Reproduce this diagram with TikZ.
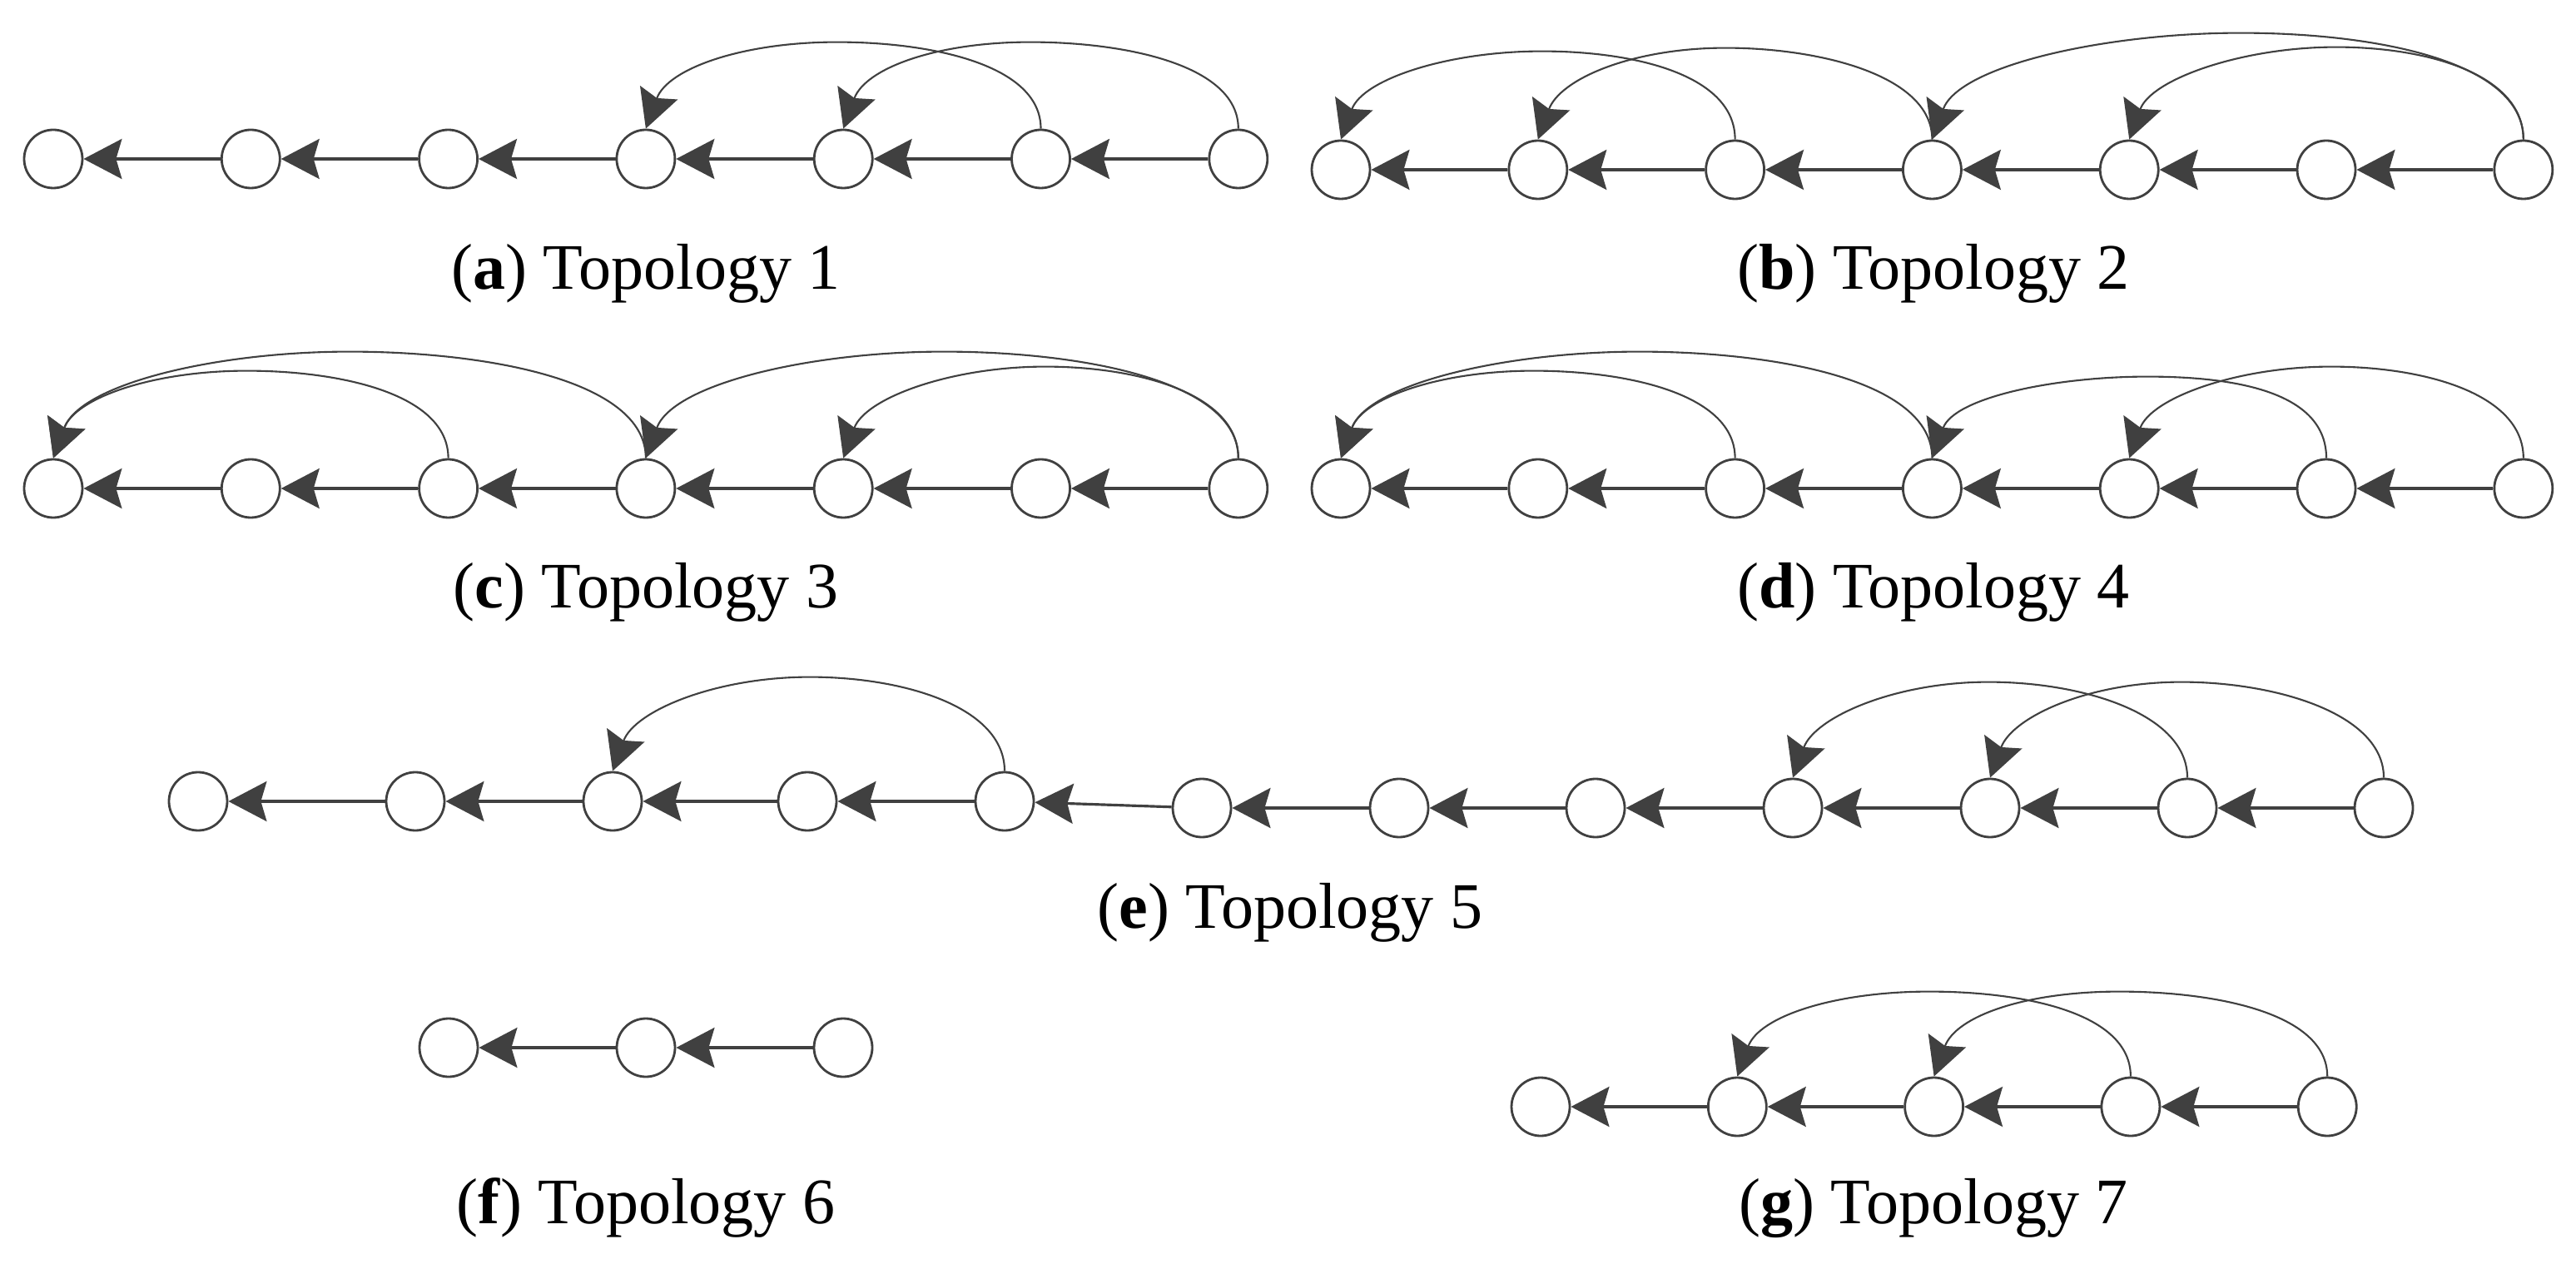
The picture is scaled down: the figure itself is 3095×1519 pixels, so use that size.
\documentclass[tikz,border=0pt]{standalone}
\usepackage{fontspec}
\setmainfont{Liberation Serif}
\usetikzlibrary{arrows.meta}

\definecolor{linegray}{RGB}{64,64,64}

\tikzset{
  vertex/.style={circle, draw=linegray, line width=0.4pt, fill=white,
    inner sep=0pt, minimum size=3.5mm},
  link/.style={draw=linegray, line width=0.45pt,
    -{Stealth[length=2.3mm, width=2.4mm, inset=0.35mm]}},
  hop/.style={link, line width=0.3pt},
  climb/.style={out=90, in=0, out distance=3.85mm, in distance=5.65mm},
  land/.style={out=180, in=70, out distance=5.65mm, in distance=3.85mm},
  longclimb/.style={out=90, in=0, out distance=4.75mm, in distance=8mm},
  longland/.style={out=180, in=70, out distance=8mm, in distance=4.75mm},
  subcap/.style={anchor=base, font=\fontsize{11.1}{13}\selectfont}
}

\begin{document}
\begin{tikzpicture}[x=0.05mm, y=-0.05mm]
  \useasboundingbox (0,0) rectangle (3095,1519);

  % (a) Topology 1
  \foreach \i in {1,...,7}
    \node[vertex] (a\i) at ({64+237.3*(\i-1)},191) {};
  \foreach \i [count=\j from 2] in {1,...,6}
    \draw[link] (a\j) -- (a\i);
  \draw[hop] (a6.north) to[climb] ++(-245,-104) to[land] (a4.north);
  \draw[hop] (a7.north) to[climb] ++(-250,-104) to[land] (a5.north);
  \node[subcap] (capa) at (776,348) {(\textbf{a}) Topology 1};

  % (b) Topology 2
  \foreach \i in {1,...,7}
    \node[vertex] (b\i) at ({1611+236.8*(\i-1)},204) {};
  \foreach \i [count=\j from 2] in {1,...,6}
    \draw[link] (b\j) -- (b\i);
  \draw[hop] (b3.north) to[climb] ++(-232,-106) to[land] (b1.north);
  \draw[hop] (b4.north) to[climb] ++(-248,-110) to[land] (b2.north);
  \draw[hop] (b7.north) to[longclimb] ++(-340,-128) to[longland] (b4.north);
  \draw[hop] (b7.north) to[climb] ++(-225,-111) to[land] (b5.north);
  \node[subcap] (capb) at (2323,348) {(\textbf{b}) Topology 2};

  % (c) Topology 3
  \foreach \i in {1,...,7}
    \node[vertex] (c\i) at ({64+237.3*(\i-1)},587) {};
  \foreach \i [count=\j from 2] in {1,...,6}
    \draw[link] (c\j) -- (c\i);
  \draw[hop] (c3.north) to[climb] ++(-242,-105) to[land] (c1.north);
  \draw[hop] (c4.north) to[longclimb] ++(-356,-128) to[longland] (c1.north);
  \draw[hop] (c7.north) to[longclimb] ++(-354,-128) to[longland] (c4.north);
  \draw[hop] (c7.north) to[climb] ++(-232,-110) to[land] (c5.north);
  \node[subcap] (capc) at (776,731) {(\textbf{c}) Topology 3};

  % (d) Topology 4
  \foreach \i in {1,...,7}
    \node[vertex] (d\i) at ({1611+236.8*(\i-1)},587) {};
  \foreach \i [count=\j from 2] in {1,...,6}
    \draw[link] (d\j) -- (d\i);
  \draw[hop] (d3.north) to[climb] ++(-242,-105) to[land] (d1.north);
  \draw[hop] (d4.north) to[longclimb] ++(-352,-128) to[longland] (d1.north);
  \draw[hop] (d6.north) to[climb] ++(-215,-98) to[land] (d4.north);
  \draw[hop] (d7.north) to[climb] ++(-231,-110) to[land] (d5.north);
  \node[subcap] (capd) at (2323,731) {(\textbf{d}) Topology 4};

  % (e) Topology 5
  \foreach \i/\x/\y in {1/238/963, 2/499/963, 3/736/963, 4/970/963, 5/1207/963,
      6/1444/971, 7/1681/971, 8/1917/971, 9/2154/971, 10/2391/971,
      11/2628/971, 12/2864/971}
    \node[vertex] (e\i) at (\x,\y) {};
  \foreach \i [count=\j from 2] in {1,...,11}
    \draw[link] (e\j) -- (e\i);
  \draw[hop] (e5.north) to[climb] ++(-234,-113) to[land] (e3.north);
  \draw[hop] (e11.north) to[climb] ++(-239,-115) to[land] (e9.north);
  \draw[hop] (e12.north) to[climb] ++(-243,-115) to[land] (e10.north);
  \node[subcap] (cape) at (1550,1115) {(\textbf{e}) Topology 5};

  % (f) Topology 6
  \foreach \i in {1,...,3}
    \node[vertex] (f\i) at ({539+237*(\i-1)},1259) {};
  \foreach \i [count=\j from 2] in {1,2}
    \draw[link] (f\j) -- (f\i);
  \node[subcap] (capf) at (776,1470) {(\textbf{f}) Topology 6};

  % (g) Topology 7
  \foreach \i in {1,...,5}
    \node[vertex] (g\i) at ({1851+236.3*(\i-1)},1330) {};
  \foreach \i [count=\j from 2] in {1,...,4}
    \draw[link] (g\j) -- (g\i);
  \draw[hop] (g4.north) to[climb] ++(-242,-102) to[land] (g2.north);
  \draw[hop] (g5.north) to[climb] ++(-250,-102) to[land] (g3.north);
  \node[subcap] (capg) at (2323,1470) {(\textbf{g}) Topology 7};
\end{tikzpicture}
\end{document}
